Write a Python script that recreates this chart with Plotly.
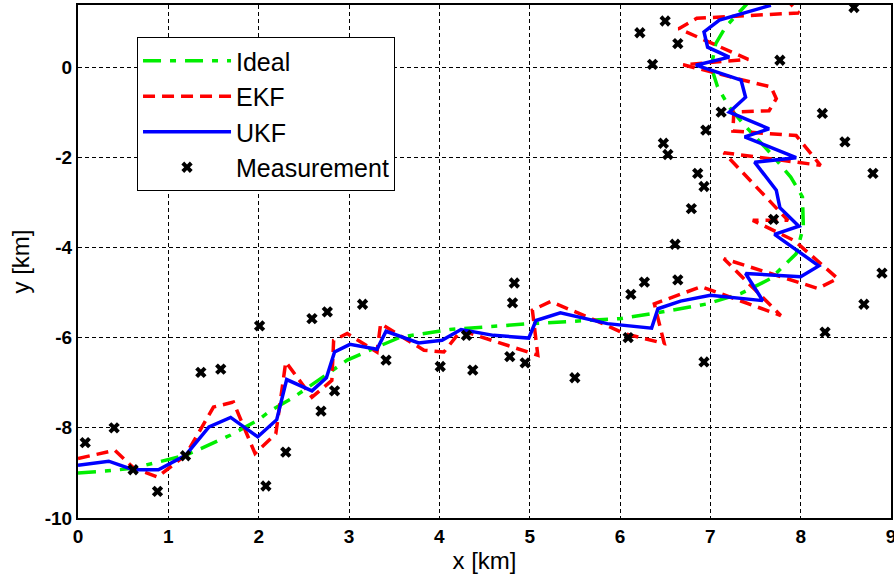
import plotly.graph_objects as go

# Ideal trajectory
ideal_x = [0.0, 0.3, 0.6, 0.99, 1.19, 1.36, 1.69, 2.0, 2.13, 2.39, 2.61, 2.98, 3.31, 3.57, 4.12,
           5.01, 6.0, 6.41, 6.97, 7.34, 7.67, 7.95, 8.03, 8.02, 7.89, 7.67, 7.36, 7.21, 7.08,
           7.01, 7.06, 7.17, 7.41]
ideal_y = [-9.0, -8.96, -8.9, -8.72, -8.61, -8.46, -8.16, -7.82, -7.62, -7.32, -7.02, -6.5, -6.21,
           -5.99, -5.82, -5.69, -5.58, -5.45, -5.25, -5.02, -4.69, -4.14, -3.55, -2.88, -2.44,
           -1.92, -1.25, -0.89, -0.44, 0.0, 0.52, 0.89, 1.41]

# EKF estimate
ekf_x = [0.0, 0.41, 0.62, 0.88, 1.19, 1.5, 1.72, 1.96, 2.19, 2.3, 2.59, 2.81, 2.83, 2.98, 3.31,
         3.35, 3.83, 4.05, 4.24, 4.97, 5.09, 5.03, 5.23, 5.64, 6.05, 6.49, 6.38, 6.9, 7.78, 7.15,
         8.19, 8.41, 7.93, 7.47, 7.86, 7.15, 8.22, 7.95, 7.25, 7.26, 7.65, 7.73, 7.67, 7.38, 6.7,
         7.42, 6.65, 6.85, 7.98, 7.88]
ekf_y = [-8.68, -8.5, -8.9, -9.09, -8.61, -7.54, -7.43, -8.57, -8.13, -6.54, -7.32, -6.95, -6.06,
         -5.91, -6.32, -5.69, -6.28, -6.32, -5.84, -6.32, -6.39, -5.39, -5.2, -5.54, -5.91, -6.13,
         -5.25, -4.87, -5.51, -4.25, -4.91, -4.69, -3.85, -3.4, -3.4, -1.9, -2.18, -1.52, -1.42,
         -1.0, -0.97, -0.7, -0.44, -0.3, 0.05, 0.17, 0.85, 1.08, 1.2, 1.42]

# UKF estimate
ukf_x = [0.0, 0.34, 0.61, 0.89, 1.19, 1.45, 1.69, 1.99, 2.2, 2.31, 2.59, 2.75, 2.84, 3.01, 3.31,
         3.41, 3.77, 4.03, 4.24, 4.6, 4.99, 5.07, 5.34, 5.86, 6.35, 6.42, 6.67, 7.0, 7.58, 7.39,
         8.0, 8.2, 7.71, 7.98, 7.77, 7.73, 7.49, 7.95, 7.38, 7.65, 7.21, 7.39, 7.34, 6.84, 7.21,
         6.97, 6.93, 7.1, 7.67]
ukf_y = [-8.83, -8.74, -8.93, -8.93, -8.61, -7.98, -7.77, -8.2, -7.82, -6.93, -7.18, -6.89, -6.32,
         -6.15, -6.26, -5.86, -6.12, -6.06, -5.82, -5.95, -6.01, -5.62, -5.45, -5.69, -5.79, -5.36,
         -5.19, -5.06, -5.18, -4.58, -4.65, -4.41, -3.71, -3.53, -3.12, -2.73, -2.11, -2.01, -1.55,
         -1.37, -1.0, -0.67, -0.29, 0.04, 0.22, 0.44, 0.78, 1.04, 1.37]

# Measurements
meas_x = [0.08, 0.40, 0.61, 0.88, 1.19, 1.36, 1.58, 2.01, 2.08, 2.30, 2.59, 2.76, 2.69, 2.84, 3.15,
          3.41, 4.01, 4.37, 4.30, 4.81, 4.83, 4.78, 4.95, 5.50, 6.09, 6.12, 6.27, 6.64, 6.93, 8.27,
          8.70, 8.59, 6.50, 6.22, 6.64, 6.36, 7.77, 7.12, 6.95, 8.24, 6.48, 6.53, 8.49, 6.86, 6.93,
          8.80, 6.79, 7.70, 6.61, 8.90]
meas_y = [-8.33, -8.00, -8.93, -9.41, -8.62, -6.77, -6.70, -5.74, -9.29, -8.54, -5.58, -5.43, -7.63,
          -7.18, -5.26, -6.50, -6.64, -6.72, -5.95, -5.23, -4.79, -6.42, -6.56, -6.89, -6.00, -5.04,
          -4.77, -4.72, -6.54, -5.88, -5.26, 1.32, 1.02, 0.76, 0.52, 0.06, 0.15, -1.00, -1.40, -1.03,
          -1.69, -1.94, -1.66, -2.36, -2.65, -2.36, -3.14, -3.38, -3.93, -4.57]

x_ticks = [0, 1, 2, 3, 4, 5, 6, 7, 8, 9]
y_ticks = [-10, -8, -6, -4, -2, 0]

FONT = "Liberation Sans, Arial"

fig = go.Figure()
fig.add_trace(go.Scatter(x=ideal_x, y=ideal_y, mode="lines", name="Ideal",
                         line=dict(color="#00ee00", width=3.5, dash="18px,9px,6px,9px")))
fig.add_trace(go.Scatter(x=ekf_x, y=ekf_y, mode="lines", name="EKF",
                         line=dict(color="#ff0000", width=3.5, dash="12px,7px")))
fig.add_trace(go.Scatter(x=ukf_x, y=ukf_y, mode="lines", name="UKF",
                         line=dict(color="#0000ff", width=3.5)))
fig.add_trace(go.Scatter(x=meas_x, y=meas_y, mode="markers", name="Measurement",
                         marker=dict(symbol="x", size=10, color="black",
                                     line=dict(width=0))))

axis_common = dict(
    showline=True, linecolor="black", linewidth=2, mirror=True,
    showgrid=True, gridcolor="black", gridwidth=1, griddash="4px,3px",
    zeroline=False, ticks="", automargin=False, ticklabeloverflow="allow",
    tickfont=dict(family=FONT, size=19, color="black", weight="bold"),
)

fig.update_xaxes(range=[0, 9], tickvals=x_ticks, ticktext=[str(v) for v in x_ticks],
                 title=dict(text="x [km]", font=dict(family=FONT, size=24, color="black"),
                            standoff=6),
                 **axis_common)
fig.update_yaxes(range=[-10, 1.375], tickvals=y_ticks, ticktext=[str(v) for v in y_ticks],
                 title=dict(text="y [km]", font=dict(family=FONT, size=24, color="black"),
                            standoff=8),
                 **axis_common)

fig.update_layout(
    width=894, height=586,
    margin=dict(l=78, r=3, t=5, b=68),
    paper_bgcolor="white", plot_bgcolor="white",
    showlegend=True,
    legend=dict(x=0.0726, y=0.9376, xanchor="left", yanchor="top",
                bgcolor="white", bordercolor="black", borderwidth=1,
                font=dict(family=FONT, size=25, color="black"),
                itemwidth=88, tracegroupgap=0),
)

fig.write_html("out.html", config={"displayModeBar": False},
               post_script="document.body.style.margin='0px';document.body.style.overflow='hidden';")
